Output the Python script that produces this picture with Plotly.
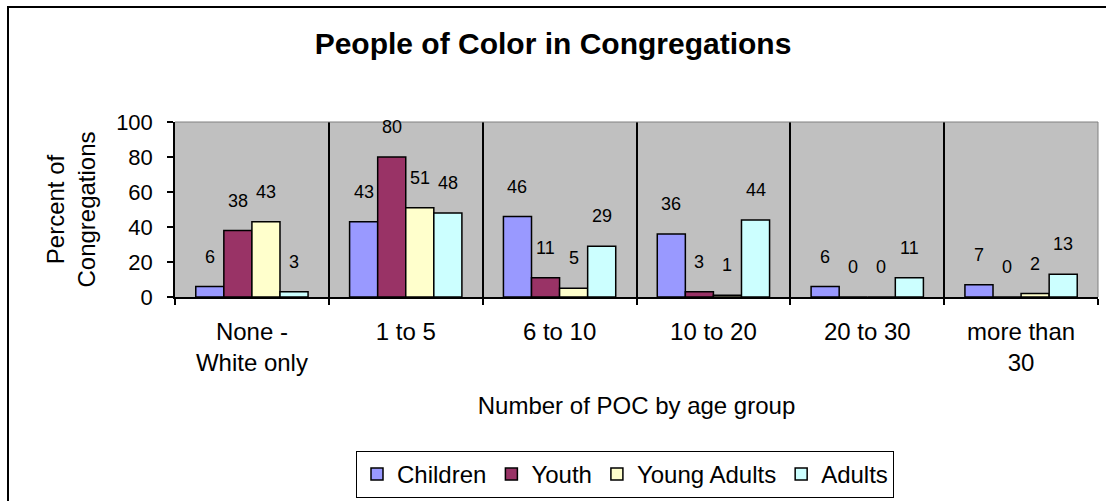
import plotly.graph_objects as go

# Number of people of colour per congregation, by age group (percent of congregations)
categories = ["None -<br>White only", "1 to 5", "6 to 10", "10 to 20", "20 to 30", "more than<br>30"]
series_names = ["Children", "Youth", "Young Adults", "Adults"]
children = [6, 43, 46, 36, 6, 7]
youth = [38, 80, 11, 3, 0, 0]
young_adults = [43, 51, 5, 1, 0, 2]
adults = [3, 48, 29, 44, 11, 13]
y_ticks = [0, 20, 40, 60, 80, 100]

series_values = [children, youth, young_adults, adults]
colors = ["#9999FF", "#993366", "#FFFFCC", "#CCFFFF"]

W, H = 1106, 501
ML, MR, MT, MB = 175, 8, 122, 204
PW, PH = W - ML - MR, H - MT - MB
BARGAP = 0.27
FONT = "Liberation Sans, Arial, sans-serif"


def px_x(p):
    return (p - ML) / PW


def px_y(p):
    return (H - MB - p) / PH


fig = go.Figure()
for name, vals, col in zip(series_names, series_values, colors):
    fig.add_trace(go.Bar(
        x=list(range(len(categories))), y=vals, name=name,
        marker=dict(color=col, line=dict(color="black", width=1.5)),
    ))

# value labels floating above each bar
n = len(series_names)
bw = (1 - BARGAP) / n
annotations = []
for j, vals in enumerate(series_values):
    for i, v in enumerate(vals):
        annotations.append(dict(
            x=i + (j - (n - 1) / 2) * bw, y=v, xref="x", yref="y",
            text=str(v), showarrow=False, yshift=30, yanchor="middle",
            font=dict(family=FONT, size=18, color="black"),
        ))

shapes = [
    # light edge along top and right of the plotting area
    dict(type="line", xref="paper", yref="paper", x0=0, x1=1, y0=1, y1=1,
         line=dict(color="#808080", width=1)),
    dict(type="line", xref="paper", yref="paper", x0=1, x1=1, y0=0, y1=1,
         line=dict(color="#808080", width=1)),
    # chart frame
    dict(type="rect", xref="paper", yref="paper",
         x0=px_x(8), x1=px_x(1115), y0=px_y(7), y1=px_y(510),
         line=dict(color="black", width=2), fillcolor="rgba(0,0,0,0)"),
]

fig.update_layout(
    width=W, height=H, autosize=False,
    margin=dict(l=ML, r=MR, t=MT, b=MB, pad=0),
    paper_bgcolor="white", plot_bgcolor="#C0C0C0",
    barmode="group", bargap=BARGAP, bargroupgap=0,
    font=dict(family=FONT, color="black"),
    title=dict(text="<b>People of Color in Congregations</b>",
               font=dict(family=FONT, size=30, color="black"),
               x=0.5, xref="container", xanchor="center",
               y=1 - 43 / H, yref="container", yanchor="middle"),
    showlegend=True,
    legend=dict(orientation="h",
                xref="container", x=356 / W, xanchor="left",
                yref="container", y=1 - 451 / H, yanchor="top",
                bordercolor="black", borderwidth=1, bgcolor="white",
                font=dict(family=FONT, size=24, color="black"),
                traceorder="normal"),
    annotations=annotations,
    shapes=shapes,
)

fig.update_xaxes(
    type="category", tickmode="array",
    tickvals=list(range(len(categories))), ticktext=categories,
    range=[-0.5, len(categories) - 0.5],
    tickson="boundaries", ticks="outside", ticklen=6, tickcolor="black", tickwidth=1.5,
    ticklabelstandoff=12,
    showgrid=True, gridcolor="black", gridwidth=1.5,
    showline=True, linecolor="black", linewidth=1.5,
    tickfont=dict(family=FONT, size=24, color="black"),
    title=dict(text="Number of POC by age group", standoff=22,
               font=dict(family=FONT, size=24, color="black")),
    automargin=False, zeroline=False,
)

fig.update_yaxes(
    range=[0, 100], tickmode="array", tickvals=y_ticks,
    ticks="outside", ticklen=6, tickcolor="black", tickwidth=1.5,
    ticklabelstandoff=10,
    showgrid=False, zeroline=False,
    showline=True, linecolor="black", linewidth=1.5,
    tickfont=dict(family=FONT, size=22, color="black"),
    title=dict(text="Percent of<br>Congregations", standoff=14,
               font=dict(family=FONT, size=24, color="black")),
    automargin=False,
)

fig.write_html("out.html")
